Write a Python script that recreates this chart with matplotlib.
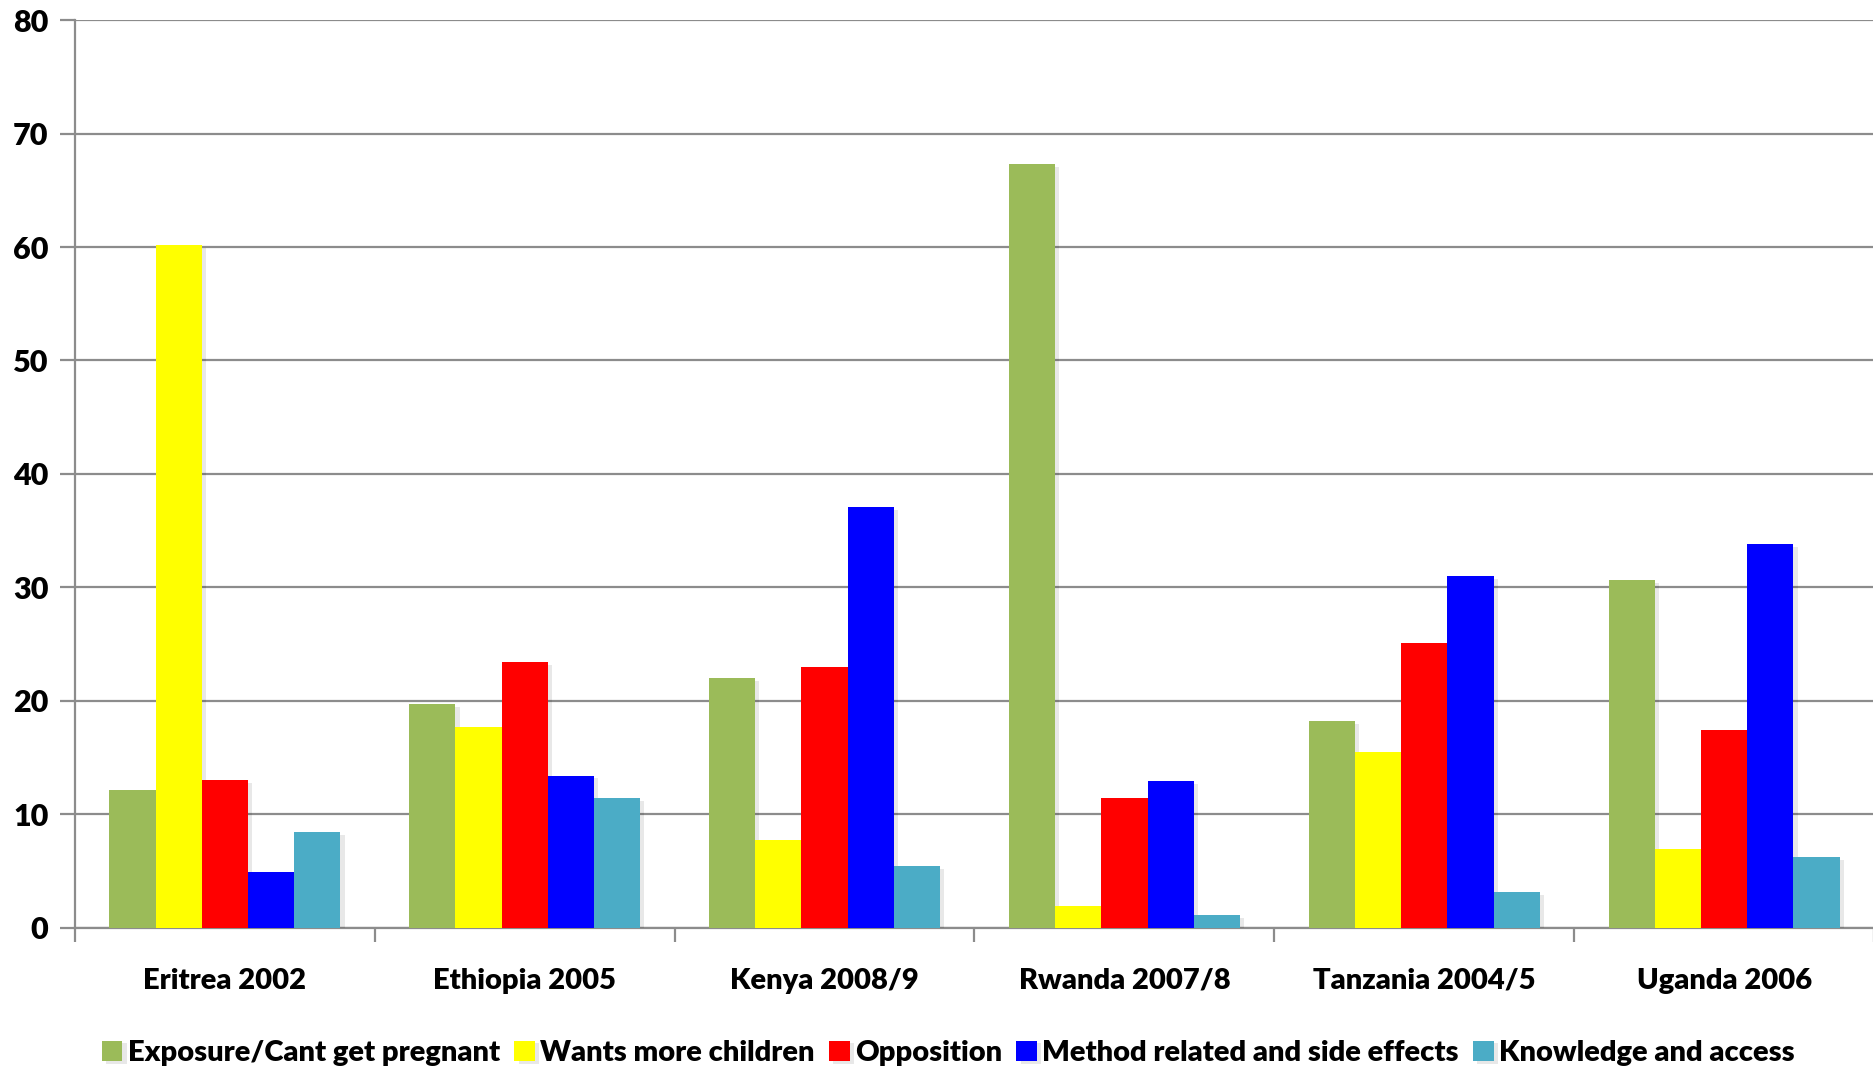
import matplotlib
matplotlib.use("Agg")
import matplotlib.pyplot as plt
import matplotlib.patheffects as pe
import numpy as np

plt.rcParams['font.family'] = ['Lato', 'DejaVu Sans']

categories = ["Eritrea 2002", "Ethiopia 2005", "Kenya 2008/9",
              "Rwanda 2007/8", "Tanzania 2004/5", "Uganda 2006"]
series_names = ["Exposure/Cant get pregnant", "Wants more children", "Opposition",
                "Method related and side effects", "Knowledge and access"]
exposure = [12.1, 19.7, 22.0, 67.3, 18.2, 30.6]
wants_more = [60.2, 17.7, 7.7, 1.9, 15.5, 6.9]
opposition = [13.0, 23.4, 23.0, 11.4, 25.1, 17.4]
method = [4.9, 13.4, 37.1, 12.9, 31.0, 33.8]
knowledge = [8.4, 11.4, 5.4, 1.1, 3.1, 6.2]
series = [exposure, wants_more, opposition, method, knowledge]
colors = ["#9BBB59", "#FFFF00", "#FF0000", "#0000FF", "#4BACC6"]
yticks = [0, 10, 20, 30, 40, 50, 60, 70, 80]

WEIGHT = 'heavy'
FS = 21

W, H = 1874, 1070
fig = plt.figure(figsize=(W / 100, H / 100), dpi=100)
ax = fig.add_axes([75 / W, 1 - 927.5 / H, 1 - 75 / W, (927.5 - 20.3) / H])

x = np.arange(len(categories))
bw = 0.154
shadow = [pe.SimplePatchShadow(offset=(3, -2), alpha=0.09, shadow_rgbFace='black'), pe.Normal()]
for j, (vals, col, name) in enumerate(zip(series, colors, series_names)):
    ax.bar(x + (j - 2) * bw, vals, width=bw, color=col, label=name,
           zorder=3, path_effects=shadow, linewidth=0)

ax.set_xlim(-0.5, len(categories) - 0.5)
ax.set_ylim(0, 80)
ax.set_yticks(yticks)
ax.set_yticklabels([str(v) for v in yticks], fontsize=FS + 1, fontweight=WEIGHT)
ax.yaxis.grid(True, color='#8C8C8C', linewidth=1.6, zorder=0)
ax.set_axisbelow(True)

ax.set_xticks(np.arange(-0.5, len(categories), 1.0))
ax.set_xticklabels([])
ax.set_xticks(x, minor=True)
ax.set_xticklabels(categories, minor=True, fontsize=FS, fontweight=WEIGHT)
ax.tick_params(axis='x', which='minor', length=0, pad=29)
ax.tick_params(axis='x', which='major', length=10, width=1.6, color='#8C8C8C')
ax.tick_params(axis='y', length=11, width=1.6, color='#8C8C8C', pad=8)

for s in ['top', 'right']:
    ax.spines[s].set_visible(False)
for s in ['left', 'bottom']:
    ax.spines[s].set_color('#8C8C8C')
    ax.spines[s].set_linewidth(1.6)

fig.legend(loc='center', bbox_to_anchor=(0.506, 1 - 1053 / H), ncol=5, frameon=False,
           handlelength=0.7, handleheight=0.7, handletextpad=0.18,
           columnspacing=0.5, prop={'weight': WEIGHT, 'size': FS})

fig.savefig("out.png", dpi=100, facecolor='white')
